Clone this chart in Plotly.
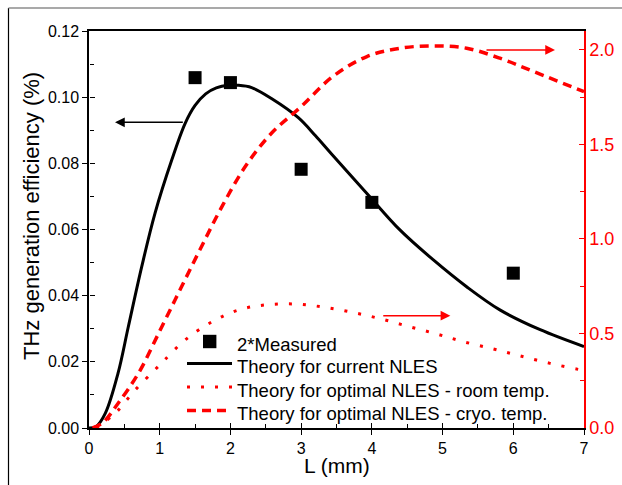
import plotly.graph_objects as go

# Crystal length L (mm) and measured THz generation efficiency (%)
meas_L = [1.5, 2.0, 3.0, 4.0, 6.0]
meas_eff = [0.1059, 0.1044, 0.0782, 0.0682, 0.0468]

# Theory for the current NLES (left axis, %)
cur_L = [0.0, 0.1, 0.23, 0.41, 0.556, 0.745, 0.933, 1.17, 1.36, 1.5, 1.65, 1.8,
         1.97, 2.1, 2.3, 2.58, 2.96, 3.2, 3.43, 3.93, 4.40, 4.87, 5.34, 5.81, 6.38, 7.0]
cur_eff = [0.0, 0.0004, 0.0044, 0.0165, 0.0306, 0.0487, 0.0649, 0.081, 0.0921, 0.0975,
           0.1010, 0.1028, 0.1036, 0.1036, 0.1029, 0.0996, 0.0938, 0.0884, 0.0828,
           0.0709, 0.0598, 0.0508, 0.0427, 0.0357, 0.0297, 0.0246]

# Theory for the optimal NLES at room temperature (right axis, %)
room_L = [0.1, 0.37, 0.65, 0.93, 1.07, 1.36, 1.74, 2.11, 2.49, 2.91, 3.31, 3.72,
          4.12, 4.52, 4.92, 5.29, 5.72, 6.10, 6.52, 6.92, 7.0]
room_eff = [0.0, 0.078, 0.20, 0.307, 0.36, 0.466, 0.562, 0.624, 0.651, 0.656, 0.640,
            0.612, 0.578, 0.537, 0.497, 0.457, 0.418, 0.381, 0.342, 0.31, 0.305]

# Theory for the optimal NLES at cryogenic temperature (right axis, %)
cryo_L = [0.05, 0.2, 0.41, 0.70, 1.03, 1.31, 1.59, 1.88, 2.21, 2.58, 3.0, 3.45,
          3.93, 4.40, 4.87, 5.34, 5.81, 6.29, 7.0]
cryo_eff = [0.0, 0.03, 0.13, 0.29, 0.536, 0.748, 0.959, 1.171, 1.383, 1.559, 1.70,
            1.86, 1.965, 2.009, 2.021, 2.009, 1.956, 1.885, 1.779]

x_ticks = [0, 1, 2, 3, 4, 5, 6, 7]
y_ticks = [0.00, 0.02, 0.04, 0.06, 0.08, 0.10, 0.12]
y2_ticks = [0.0, 0.5, 1.0, 1.5, 2.0]

legend_names = ["2*Measured", "Theory for current NLES",
                "Theory for optimal NLES - room temp.",
                "Theory for optimal NLES - cryo. temp."]

RED = "#ff0000"
FONT = "Liberation Sans, Arial, sans-serif"
W, H = 622, 485
ML, MR, MT, MB = 89, 38, 31, 57
PW, PH = W - ML - MR, H - MT - MB

ROOM_DASH = "3px,11px"
CRYO_DASH = "9px,6px"


def px_x(px):
    """page x pixel -> paper fraction"""
    return (px - ML) / PW


def px_y(py):
    """page y pixel -> paper fraction"""
    return (H - MB - py) / PH


fig = go.Figure()

fig.add_trace(go.Scatter(
    x=meas_L, y=meas_eff, mode="markers", name=legend_names[0],
    marker=dict(symbol="square", size=13, color="black"),
))
fig.add_trace(go.Scatter(
    x=cur_L, y=cur_eff, mode="lines", name=legend_names[1],
    line=dict(color="black", width=3, shape="spline"),
))
fig.add_trace(go.Scatter(
    x=room_L, y=room_eff, mode="lines", name=legend_names[2],
    yaxis="y2", line=dict(color=RED, width=3, dash=ROOM_DASH, shape="spline"),
))
fig.add_trace(go.Scatter(
    x=cryo_L, y=cryo_eff, mode="lines", name=legend_names[3],
    yaxis="y2", line=dict(color=RED, width=3.5, dash=CRYO_DASH, shape="spline"),
))
# carrier for the inner tick axes
fig.add_trace(go.Scatter(x=[None], y=[None], xaxis="x3", yaxis="y3",
                         showlegend=False, hoverinfo="skip"))

tick_font = dict(family=FONT, size=16, color="black")

fig.update_layout(
    width=W, height=H,
    margin=dict(l=ML, r=MR, t=MT, b=MB, autoexpand=False),
    paper_bgcolor="white", plot_bgcolor="white",
    font=dict(family=FONT, color="black"),
    showlegend=False,
    xaxis=dict(
        range=[0, 7], tickvals=x_ticks, ticks="outside", ticklen=5,
        tickwidth=1.2, tickcolor="black", showline=True, linecolor="black",
        linewidth=1.5, mirror=True, showgrid=False, zeroline=False,
        tickfont=tick_font,
    ),
    yaxis=dict(
        range=[0, 0.12], tickvals=y_ticks, tickformat=".2f", ticks="outside",
        ticklen=5, tickwidth=1.2, tickcolor="black", showline=True,
        linecolor="black", linewidth=1.5, showgrid=False, zeroline=False,
        tickfont=tick_font,
    ),
    yaxis2=dict(
        range=[0, 2.1], tickvals=y2_ticks, tickformat=".1f", overlaying="y",
        side="right", anchor="x", ticks="inside", ticklen=5, tickwidth=1.2,
        tickcolor=RED, showline=True, linecolor=RED, linewidth=1.5,
        showgrid=False, zeroline=False,
        tickfont=dict(family=FONT, size=18, color=RED),
        minor=dict(dtick=0.25, tick0=0, ticks="inside", ticklen=4,
                   tickcolor=RED, tickwidth=1.2),
    ),
    xaxis3=dict(
        range=[0, 7], overlaying="x", anchor="free", position=0, side="bottom",
        tickvals=x_ticks, ticks="inside", ticklen=5, tickwidth=1.2,
        tickcolor="black", mirror="ticks", showline=False, showticklabels=False,
        showgrid=False, zeroline=False,
        minor=dict(dtick=0.5, tick0=0, ticks="inside", ticklen=4,
                   tickcolor="black", tickwidth=1.2),
    ),
    yaxis3=dict(
        range=[0, 0.12], overlaying="y", anchor="free", position=0, side="left",
        tickvals=y_ticks, ticks="inside", ticklen=5, tickwidth=1.2,
        tickcolor="black", showline=False, showticklabels=False,
        showgrid=False, zeroline=False,
        minor=dict(dtick=0.01, tick0=0, ticks="inside", ticklen=4,
                   tickcolor="black", tickwidth=1.2),
    ),
)

# axis titles
fig.add_annotation(text="THz generation efficiency (%)", textangle=-90,
                   xref="paper", yref="paper", x=px_x(31), y=px_y(216),
                   xanchor="center", yanchor="middle", showarrow=False,
                   font=dict(family=FONT, size=22, color="black"))
fig.add_annotation(text="L (mm)", xref="paper", yref="paper",
                   x=px_x(336.5), y=px_y(466), xanchor="center",
                   yanchor="middle", showarrow=False,
                   font=dict(family=FONT, size=21, color="black"))

# axis pointers
fig.add_annotation(x=0.368, y=0.0924, ax=1.348, ay=0.0924, xref="x", yref="y",
                   axref="x", ayref="y", text="", showarrow=True, arrowhead=2,
                   arrowsize=1.3, arrowwidth=1.5, arrowcolor="black")
fig.add_annotation(x=6.59, y=2.0, ax=5.6, ay=2.0, xref="x", yref="y2",
                   axref="x", ayref="y2", text="", showarrow=True, arrowhead=2,
                   arrowsize=1.3, arrowwidth=1.5, arrowcolor=RED)
fig.add_annotation(x=5.11, y=0.594, ax=4.14, ay=0.594, xref="x", yref="y2",
                   axref="x", ayref="y2", text="", showarrow=True, arrowhead=2,
                   arrowsize=1.3, arrowwidth=1.5, arrowcolor=RED)

# key: sample glyphs and labels
key_rows = [341.5, 363.5, 387.0, 410.5]
key_x0, key_x1, key_text_x = 187, 232, 236
fig.add_shape(type="rect", xref="paper", yref="paper",
              x0=px_x(203), x1=px_x(216.4), y0=px_y(key_rows[0] + 6.7),
              y1=px_y(key_rows[0] - 6.7), fillcolor="black", line=dict(width=0))
key_styles = [None,
              dict(color="black", width=3),
              dict(color=RED, width=3, dash=ROOM_DASH),
              dict(color=RED, width=3.5, dash=CRYO_DASH)]
for row_y, style in zip(key_rows[1:], key_styles[1:]):
    fig.add_shape(type="line", xref="paper", yref="paper",
                  x0=px_x(key_x0), x1=px_x(key_x1), y0=px_y(row_y), y1=px_y(row_y),
                  line=style)
for row_y, name in zip(key_rows, legend_names):
    fig.add_annotation(text=name, xref="paper", yref="paper", x=px_x(key_text_x),
                       y=px_y(row_y + 3), xanchor="left", yanchor="middle",
                       showarrow=False, borderpad=0,
                       font=dict(family=FONT, size=18.5, color="black"))

# outer frame edges
fig.add_shape(type="line", xref="paper", yref="paper", x0=px_x(8.5), x1=px_x(8.5),
              y0=px_y(H + 5), y1=px_y(8), line=dict(color="black", width=1.2))
fig.add_shape(type="line", xref="paper", yref="paper", x0=px_x(8.5), x1=px_x(W + 5),
              y0=px_y(8), y1=px_y(8), line=dict(color="#8c8c8c", width=1.5))

fig.write_html("out.html")
